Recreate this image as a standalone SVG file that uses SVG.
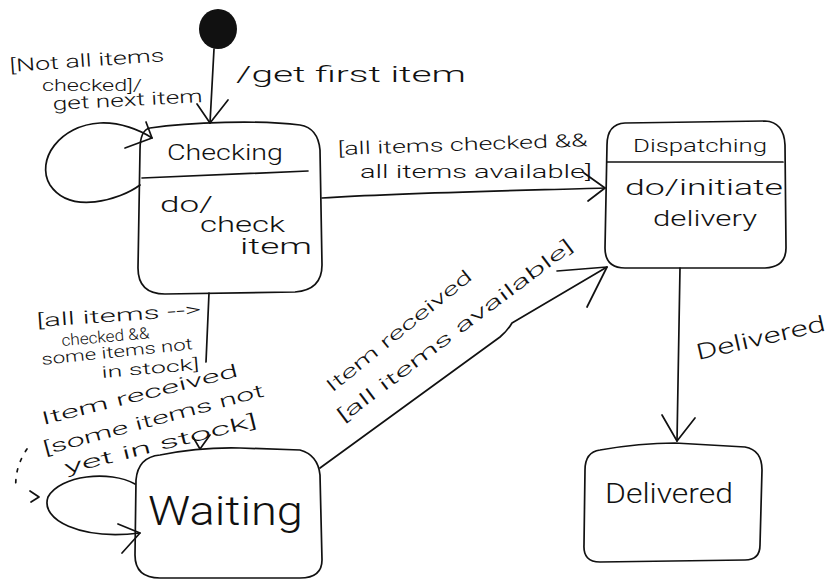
<svg xmlns="http://www.w3.org/2000/svg" width="828" height="583" viewBox="0 0 828 583">
<style>
.s{fill:none;stroke:#111;stroke-width:1.7;stroke-linecap:round;stroke-linejoin:round}
.t{font-family:Roboto,"Liberation Sans",Arial,sans-serif;font-weight:300;fill:#111;font-size:18px}
.big{font-size:22px}
</style>
<rect width="828" height="583" fill="#fff"/>
<g id="initial">
<ellipse cx="218" cy="29" rx="19" ry="20" fill="#111"/>
</g>
<g id="checking">
<path class="s" d="M150,128 C190,122 260,120 300,125 Q318,128 320,150 L322,265 Q322,290 295,292 L165,294 Q138,294 138,268 L140,150 Q140,130 150,128 Z"/>
<path class="s" d="M142,178 L308,171"/>
<text class="t big" x="167" y="160" textLength="116" lengthAdjust="spacingAndGlyphs">Checking</text>
<text class="t big" x="160" y="212" textLength="53" lengthAdjust="spacingAndGlyphs">do/</text>
<text class="t big" x="200" y="232" textLength="85" lengthAdjust="spacingAndGlyphs">check</text>
<text class="t big" x="240" y="254" textLength="72" lengthAdjust="spacingAndGlyphs">item</text>
</g>
<g id="dispatching">
<path class="s" d="M625,123 L765,121 Q784,122 785,145 L786,248 Q786,267 765,268 L625,268 Q605,268 605,248 L607,145 Q607,124 625,123 Z"/>
<path class="s" d="M607,162 L783,162"/>
<text class="t" x="633" y="152" textLength="134" lengthAdjust="spacingAndGlyphs">Dispatching</text>
<text class="t big" x="625" y="195" textLength="158" lengthAdjust="spacingAndGlyphs">do/initiate</text>
<text class="t big" x="653" y="226" textLength="104" lengthAdjust="spacingAndGlyphs">delivery</text>
</g>
<g id="delivered">
<path class="s" d="M600,450 Q640,443 675,443 L745,447 Q762,450 762,470 L760,545 Q760,560 745,560 L600,562 Q583,562 584,545 L585,470 Q585,452 600,450 Z"/>
<text class="t" style="font-size:27px" x="605" y="503" textLength="128" lengthAdjust="spacingAndGlyphs">Delivered</text>
</g>
<g id="waiting">
<path class="s" d="M160,455 Q200,447 240,448 L300,450 Q318,455 320,475 L322,560 Q322,578 300,578 L160,578 Q135,578 135,555 L136,480 Q138,457 160,455 Z"/>
<text class="t" style="font-size:40px" x="148" y="525" textLength="155" lengthAdjust="spacingAndGlyphs">Waiting</text>
</g>
<g id="connectors">
<path class="s" d="M214,49 L210,123"/>
<path class="s" d="M197,104 L210,123 L228,100"/>
<path class="s" d="M140,185 C120,200 70,215 50,185 C35,160 60,125 100,123 C120,122 140,130 152,138"/>
<path class="s" d="M125,148 L152,138 L146,122"/>
<path class="s" d="M322,198 C400,193 500,191 605,188"/>
<path class="s" d="M584,173 L605,188 L588,201"/>
<path class="s" d="M680,268 L677,441"/>
<path class="s" d="M662,415 L677,441 L695,418"/>
<path class="s" d="M209,293 L206,362"/>
<path class="s" d="M193,437 L200,449 L210,435"/>
<path class="s" d="M320,468 L500,337 Q508,330 512,323 L607,267"/>
<path class="s" d="M557,271 L607,267 L587,307"/>
<path class="s" d="M135,484 C110,470 60,475 48,497 C40,520 80,540 140,533"/>
<path class="s" d="M118,524 L140,533 L122,553"/>
<path class="s" d="M27,449 Q14,468 16,490" stroke-dasharray="3 8"/>
<path class="s" d="M30,491 L39,497 L31,502"/>
<text class="t" x="10" y="72" textLength="155" lengthAdjust="spacingAndGlyphs" transform="rotate(-4 10 72)">[Not all items</text>
<text class="t" style="font-size:16px" x="42" y="91" textLength="100" lengthAdjust="spacingAndGlyphs">checked]/</text>
<text class="t" x="53" y="110" textLength="150" lengthAdjust="spacingAndGlyphs" transform="rotate(-3 53 110)">get next item</text>
<text class="t big" x="236" y="82" textLength="230" lengthAdjust="spacingAndGlyphs">/get first item</text>
<text class="t" x="338" y="155" textLength="250" lengthAdjust="spacingAndGlyphs" transform="rotate(-2 338 155)">[all items checked &amp;&amp;</text>
<text class="t" x="360" y="178" textLength="232" lengthAdjust="spacingAndGlyphs">all items available]</text>
<text class="t big" x="698" y="360" textLength="132" lengthAdjust="spacingAndGlyphs" transform="rotate(-13 698 360)">Delivered</text>
<text class="t" x="37" y="327" textLength="165" lengthAdjust="spacingAndGlyphs" transform="rotate(-4 37 327)">[all items --&gt;</text>
<text class="t" style="font-size:16px" x="62" y="346" textLength="88" lengthAdjust="spacingAndGlyphs" transform="rotate(-5 62 346)">checked &amp;&amp;</text>
<text class="t" style="font-size:16px" x="42" y="365" textLength="152" lengthAdjust="spacingAndGlyphs" transform="rotate(-6 42 365)">some items not</text>
<text class="t" style="font-size:16px" x="102" y="378" textLength="98" lengthAdjust="spacingAndGlyphs" transform="rotate(-5 102 378)">in stock]</text>
<text class="t" x="43" y="425" textLength="202" lengthAdjust="spacingAndGlyphs" transform="rotate(-14 43 425)">Item received</text>
<text class="t" x="45" y="455" textLength="228" lengthAdjust="spacingAndGlyphs" transform="rotate(-15 45 455)">[some items not</text>
<text class="t" x="66" y="474" textLength="198" lengthAdjust="spacingAndGlyphs" transform="rotate(-14 66 474)">yet in stock]</text>
<text class="t" x="332" y="393" textLength="182" lengthAdjust="spacingAndGlyphs" transform="rotate(-39 332 393)">Item received</text>
<text class="t" x="343" y="423" textLength="290" lengthAdjust="spacingAndGlyphs" transform="rotate(-37 343 423)">[all items available]</text>
</g>
</svg>
